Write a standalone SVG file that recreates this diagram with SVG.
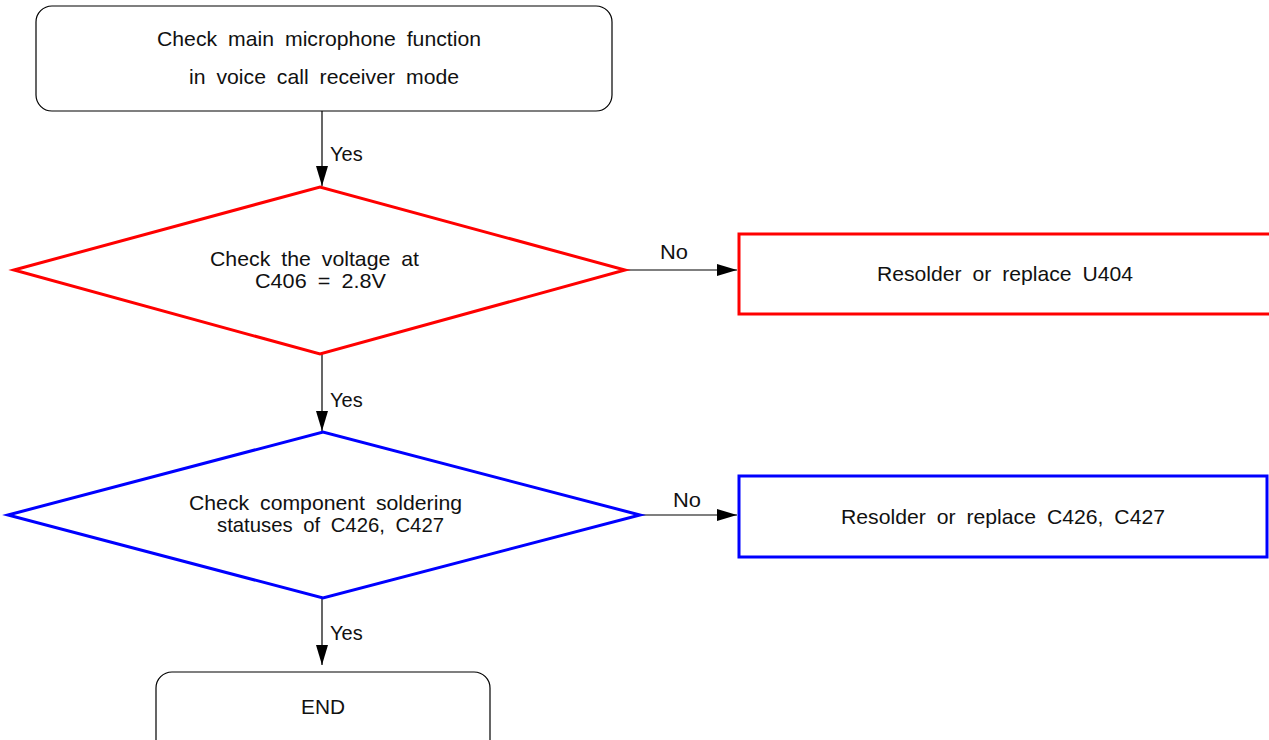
<svg xmlns="http://www.w3.org/2000/svg" width="1269" height="740" viewBox="0 0 1269 740">
<style>
text{font-family:"Liberation Sans",Arial,sans-serif;font-size:20px;fill:#111}
.n{font-size:21px;word-spacing:5px}
.t{stroke:#000;stroke-width:1.2;fill:#fff}
.red{stroke:#ff0000;stroke-width:3;fill:#fff}
.blue{stroke:#0000ff;stroke-width:3;fill:#fff}
.c{stroke:#000;stroke-width:1.2;fill:none}
</style>
<defs>
<marker id="ahv" viewBox="0 0 20 12" refX="20" refY="6" markerWidth="20" markerHeight="12" markerUnits="userSpaceOnUse" orient="auto">
<path d="M0,0 L20,6 L0,12 Z" fill="#000"/>
</marker>
</defs>
<rect width="1269" height="740" fill="#fff"/>
<g id="connectors">
<line class="c" x1="322" y1="111" x2="322" y2="186" marker-end="url(#ahv)"/>
<text x="330" y="161">Yes</text>
<line class="c" x1="625" y1="270" x2="737" y2="270" marker-end="url(#ahv)"/>
<text class="n" x="660" y="259" textLength="28" lengthAdjust="spacingAndGlyphs">No</text>
<line class="c" x1="322" y1="354" x2="322" y2="431" marker-end="url(#ahv)"/>
<text x="330" y="407">Yes</text>
<line class="c" x1="640" y1="515" x2="737" y2="515" stroke="#777" marker-end="url(#ahv)"/>
<text class="n" x="673" y="507" textLength="28" lengthAdjust="spacingAndGlyphs">No</text>
<line class="c" x1="322" y1="598" x2="322" y2="665" marker-end="url(#ahv)"/>
<text x="330" y="640">Yes</text>
</g>
<g id="start">
<rect class="t" x="36" y="6" width="576" height="105" rx="16"/>
<text class="n" x="157" y="46" textLength="324" lengthAdjust="spacingAndGlyphs">Check main microphone function</text>
<text class="n" x="189" y="84" textLength="270" lengthAdjust="spacingAndGlyphs">in voice call receiver mode</text>
</g>
<g id="d1">
<polygon class="red" points="14,270 320,187 625,270 320,354"/>
<text class="n" x="210" y="266" textLength="209" lengthAdjust="spacingAndGlyphs">Check the voltage at</text>
<text class="n" x="255" y="288" textLength="131" lengthAdjust="spacingAndGlyphs">C406 = 2.8V</text>
</g>
<g id="r1">
<rect class="red" x="739" y="234" width="535" height="80"/>
<text class="n" x="877" y="281" textLength="256" lengthAdjust="spacingAndGlyphs">Resolder or replace U404</text>
</g>
<g id="d2">
<polygon class="blue" points="8,515 323,432 640,515 323,598"/>
<text class="n" x="189" y="510" textLength="273" lengthAdjust="spacingAndGlyphs">Check component soldering</text>
<text class="n" x="217" y="532" textLength="227" lengthAdjust="spacingAndGlyphs">statuses of C426, C427</text>
</g>
<g id="r2">
<rect class="blue" x="739" y="476" width="528" height="81"/>
<text class="n" x="841" y="524" textLength="324" lengthAdjust="spacingAndGlyphs">Resolder or replace C426, C427</text>
</g>
<g id="end">
<rect class="t" x="156" y="672" width="334" height="90" rx="16"/>
<text x="301" y="714" textLength="44" lengthAdjust="spacingAndGlyphs">END</text>
</g>
</svg>
